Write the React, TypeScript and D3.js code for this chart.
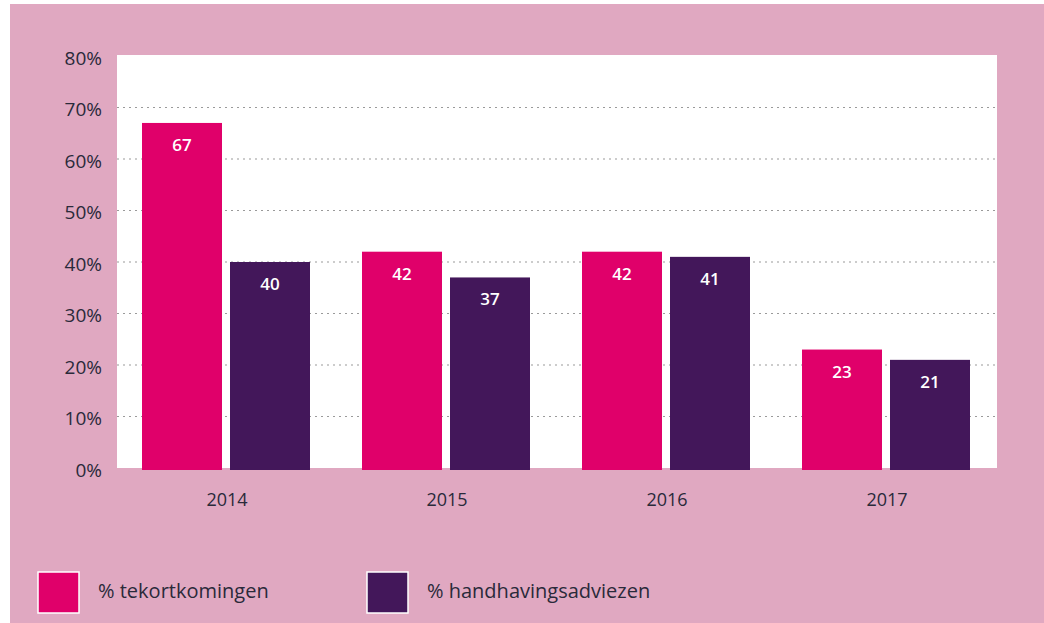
import React from "react";
import * as d3 from "d3";

const years = ["2014", "2015", "2016", "2017"];
const tekortkomingen = [67, 42, 42, 23];
const handhavingsadviezen = [40, 37, 41, 21];
const yTicks = [0, 10, 20, 30, 40, 50, 60, 70, 80];
const seriesNames = ["% tekortkomingen", "% handhavingsadviezen"];
const seriesColors = ["#E0006A", "#43175A"];

export default function App() {
  const W = 1044, H = 623;
  const plot = { left: 117, right: 997, top: 56, bottom: 468 };
  const x = d3.scaleBand<string>().domain(years).range([plot.left, plot.right]).paddingInner(0).paddingOuter(0);
  const y = d3.scaleLinear().domain([0, 80]).range([plot.bottom, plot.top]);
  const inner = d3.scaleBand<string>().domain(["a", "b"]).range([25, 193]).paddingInner(8 / 88);
  const series = [tekortkomingen, handhavingsadviezen];
  const font = "'Open Sans', 'DejaVu Sans', sans-serif";
  return (
    <div style={{ position: "absolute", left: 0, top: 0 }}>
      <svg width={W} height={H} style={{ display: "block" }}>
        <rect x={0} y={0} width={W} height={H} fill="#ffffff" />
        <rect x={10} y={4} width={W - 10} height={H - 4} fill="#E0A8C1" />
        <rect x={plot.left} y={plot.top - 1} width={plot.right - plot.left} height={plot.bottom - plot.top + 1} fill="#ffffff" />
        {yTicks.filter(t => t > 0 && t < 80).map(t => (
          <line key={t} x1={plot.left} x2={plot.right} y1={y(t)} y2={y(t)} stroke="#9a9a9a" strokeWidth={1.2} strokeDasharray="2,4" />
        ))}
        {yTicks.map(t => (
          <text key={t} x={102} y={y(t) + 2} dy="0.35em" textAnchor="end" fontFamily={font} fontSize={19} fill="#2a2a3a">{t}%</text>
        ))}
        {years.map((yr, i) => (
          <g key={yr}>
            {series.map((s, j) => {
              const bx = (x(yr) as number) + (inner(j === 0 ? "a" : "b") as number);
              const bw = inner.bandwidth();
              return (
                <g key={j}>
                  <rect x={bx} y={y(s[i])} width={bw} height={y(0) - y(s[i]) + 2} fill={seriesColors[j]} />
                  <text x={bx + bw / 2} y={y(s[i]) + 28} textAnchor="middle" fontFamily={font} fontSize={17} fontWeight={600} fill="#ffffff">{s[i]}</text>
                </g>
              );
            })}
            <text x={(x(yr) as number) + x.bandwidth() / 2} y={506} textAnchor="middle" fontFamily={font} fontSize={18} fill="#2a2a3a">{yr}</text>
          </g>
        ))}
        {seriesNames.map((n, j) => {
          const lx = j === 0 ? 38 : 367;
          return (
            <g key={n}>
              <rect x={lx} y={572} width={41} height={41} fill={seriesColors[j]} stroke="#ffffff" strokeWidth={1.5} />
              <text x={lx + 60} y={591} dy="0.35em" fontFamily={font} fontSize={20} fill="#2a2a3a">{n}</text>
            </g>
          );
        })}
      </svg>
    </div>
  );
}
